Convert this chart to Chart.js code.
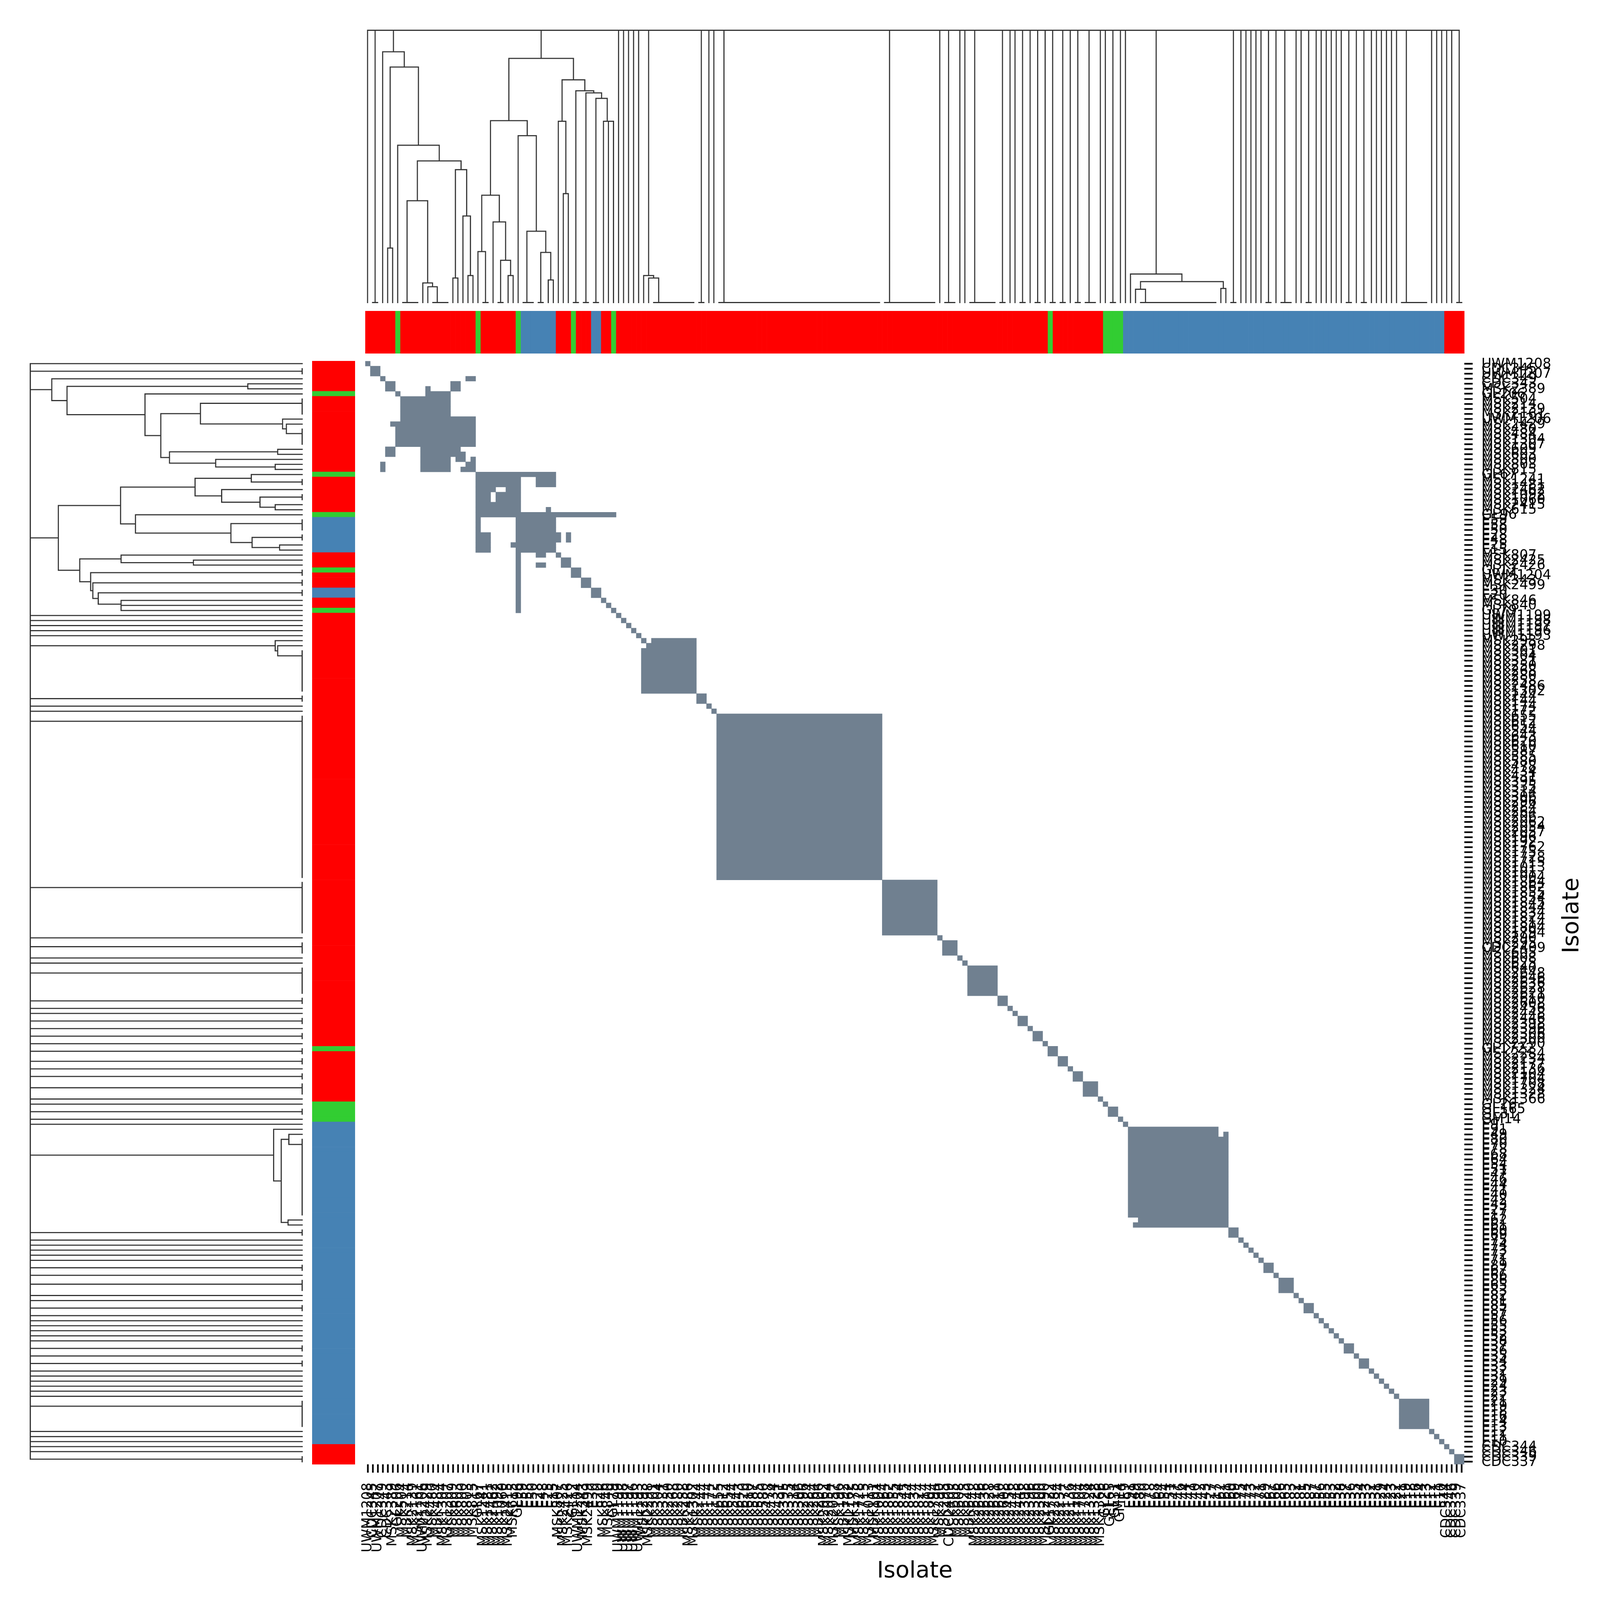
<!DOCTYPE html>
<html><head><meta charset="utf-8">
<style>html,body{margin:0;padding:0;background:#fff;overflow:hidden}canvas{position:absolute;display:block}</style>
<script src="https://cdn.jsdelivr.net/npm/chart.js@4"></script>
</head><body>
<script>
// ---------- data ----------
const isolates = ["UWM1208","CDC345","UWM1207","CDC349","CDC343","MSK2389","GL206","MSK504","MSK214","MSK2139","MSK2161","UWM1206","MSK2429","MSK480","MSK484","MSK1304","MSK1307","MSK609","MSK603","MSK800","MSK803","MSK815","GL67","MSK1241","MSK1481","MSK2462","MSK1092","MSK1060","MSK2415","MSK615","GL96","E59","E58","E50","E28","E48","E25","E15","MSK807","MSK2425","MSK2426","GL12","UWM1204","MSK343","MSK2499","E30","E20","MSK846","MSK840","GL79","UWM1199","UWM1198","UWM1197","UWM1196","UWM1193","MSK293","MSK2298","MSK301","MSK304","MSK331","MSK250","MSK268","MSK280","MSK258","MSK2486","MSK1302","MSK244","MSK144","MSK174","MSK172","MSK655","MSK612","MSK654","MSK544","MSK643","MSK620","MSK610","MSK587","MSK585","MSK580","MSK478","MSK434","MSK431","MSK395","MSK335","MSK314","MSK306","MSK296","MSK284","MSK264","MSK206","MSK2062","MSK2054","MSK2057","MSK196","MSK192","MSK1762","MSK175","MSK1728","MSK1715","MSK1013","MSK101","MSK1004","MSK1864","MSK1862","MSK1855","MSK1854","MSK1845","MSK1844","MSK1834","MSK1824","MSK1814","MSK1804","MSK1794","MSK290","MSK295","CDC2409","MSK605","MSK608","MSK625","MSK640","MSK2648","MSK2646","MSK2636","MSK2628","MSK2621","MSK2610","MSK2608","MSK2456","MSK2448","MSK2446","MSK2398","MSK2396","MSK2306","MSK2300","MSK2290","GL1722","MSK2284","MSK2234","MSK2177","MSK2136","MSK2104","MSK1704","MSK1708","MSK1324","MSK1328","MSK1366","GL26","GL165","GL31","GM14","E9","E91","E49","E80","E70","E78","E68","E64","E54","E51","E47","E46","E44","E41","E40","E42","E43","E27","E17","E62","E61","E60","E69","E75","E74","E73","E72","E71","E89","E67","E66","E86","E65","E83","E82","E81","E85","E87","E57","E56","E55","E53","E52","E38","E37","E36","E35","E34","E33","E32","E31","E29","E24","E23","E22","E21","E19","E18","E16","E14","E13","E12","E11","E10","CDC344","CDC346","CDC339","CDC337"];

// [first isolate, last isolate, group]
const groupSpans = [[0,5,"MSK"],[6,6,"GL"],[7,21,"MSK"],[22,22,"GL"],[23,29,"MSK"],[30,30,"GL"],[31,37,"E"],[38,40,"MSK"],[41,41,"GL"],[42,44,"MSK"],[45,46,"E"],[47,48,"MSK"],[49,49,"GL"],[50,135,"MSK"],[136,136,"GL"],[137,146,"MSK"],[147,150,"GL"],[151,214,"E"],[215,218,"MSK"]];
const groupColors = {MSK:"#ff0000",GL:"#32cd32",E:"#4682b4"};

// [first row, last row, [[first col,last col],...]] : linked pairs outside plain diagonal blocks
const heatBands = [
[0,0,[[0,0]]],[1,2,[[1,2]]],[3,3,[[3,3],[20,21]]],[4,4,[[4,5],[17,18]]],[5,5,[[4,5],[12,12],[17,18]]],[6,6,[[6,6],[12,16]]],[7,10,[[7,16]]],[11,11,[[7,21]]],[12,12,[[5,21]]],[13,16,[[6,21]]],[17,17,[[4,5],[11,18]]],[18,18,[[4,5],[11,19]]],[19,19,[[11,16],[18,19],[21,21]]],[20,20,[[3,3],[11,16],[20,21]]],[21,21,[[3,3],[11,16],[19,21]]],
[22,22,[[22,37]]],[23,24,[[22,30],[34,37]]],[25,25,[[22,25],[28,30]]],[26,27,[[22,24],[26,30]]],[28,28,[[22,30]]],[29,29,[[22,30],[36,36]]],[30,30,[[22,49]]],[31,33,[[22,22],[30,37]]],[34,35,[[22,24],[30,38],[40,40]]],[36,36,[[22,24],[29,37]]],[37,37,[[22,24],[30,37]]],[38,38,[[30,30],[34,35],[38,38]]],[39,39,[[30,30],[39,40]]],[40,40,[[30,30],[34,35],[39,40]]],[41,42,[[30,30],[41,42]]],[43,44,[[30,30],[43,44]]],[45,46,[[30,30],[45,46]]],[47,47,[[30,30],[47,47]]],[48,48,[[30,30],[48,48]]],[49,49,[[30,30],[49,49]]],
[55,55,[[55,55],[57,65]]],[56,56,[[56,65]]],[57,65,[[55,65]]],
[152,152,[[152,169]]],[153,153,[[152,169],[171,171]]],[154,169,[[152,171]]],[170,170,[[154,171]]],[171,171,[[153,171]]]];

// leaf groups joined at height zero ("a-b") or single leaves, both a plain diagonal block
const singles5054 = [50,51,52,53,54];
const midGroups = ["66-67",68,69,"70-102","103-113",114,"115-117",118,119,"120-125","126-127",128,129,"130-131",132,"133-134",135,"136-137","138-139",140,"141-142","143-145",146,147,"148-149",150,151];
const tailGroups = ["172-173",174,175,176,177,178,"179-180",181,"182-184",185,186,"187-188",189,190,191,192,193,194,"195-196",197,"198-199",200,201,202,203,204,205,"206-211",212,213,214,215,216,"217-218"];

// dendrogram clades: [height, left, right]
const cladeA = [.921,3,[.865,[.2,4,5],[.578,6,[.52,[.374,"7-10",[.072,11,[.058,12,"13-16"]]],[.488,[.09,17,18],[.318,19,[.099,20,21]]]]]]];
const cladeB = [.897,[.668,[.394,[.187,22,"23-24"],[.296,25,[.155,"26-27",[.099,28,29]]]],[.613,30,[.262,"31-33",[.184,"34-35",[.083,36,37]]]]],[.818,[.666,38,[.4,39,40]],[.778,"41-42",[.77,"43-44",[.75,"45-46",[.666,47,[.666,48,49]]]]]]];
const cladeC = [.099,55,[.09,56,"57-65"]];
const cladeD = [.105,152,[.077,[.049,153,"154-169"],[.052,170,171]]];
const rootChildren = [0,"1-2",cladeA,cladeB,...singles5054,cladeC,...midGroups,cladeD,...tailGroups];

// ---------- build ----------
const N = isolates.length;
const HEAT = "#708090", TREE = "#333333", INK = "#000000", FONT = "DejaVu Sans";
const K = Math.min(1,Math.min(window.innerWidth,window.innerHeight)/5765);   // fit the reference frame to the window
Chart.defaults.font.family = FONT;
Chart.defaults.devicePixelRatio = 1;

const groupOf = [];
groupSpans.forEach(([a,b,g])=>{for(let i=a;i<=b;i++)groupOf[i]=g;});
const barColors = groupOf.map(g=>groupColors[g]);

// expand heat bands into one run list per row
const runs = Array.from({length:N},()=>[]);
heatBands.forEach(([r0,r1,list])=>{for(let r=r0;r<=r1;r++)list.forEach(x=>runs[r].push(x));});
[...singles5054,...midGroups,...tailGroups].forEach(g=>{
  const [a,b] = String(g).split("-").map(Number);
  const e = b===undefined?a:b;
  for(let r=a;r<=e;r++)runs[r].push([a,e]);
});
const maxRuns = Math.max(...runs.map(r=>r.length));
const heatDatasets = [];
for(let k=0;k<maxRuns;k++){
  heatDatasets.push({data:runs.map(r=>r[k]?[r[k][0],r[k][1]+1]:null),backgroundColor:HEAT,borderWidth:0,barPercentage:1,categoryPercentage:1,grouped:false,inflateAmount:0.4});
}

// dendrogram segments as (leaf position, height) polylines separated by gaps
const topPts=[], leftPts=[];
function seg(p0,h0,p1,h1){
  topPts.push({x:p0+.5,y:h0},{x:p1+.5,y:h1},{x:null,y:null});
  leftPts.push({x:h0,y:p0+.5},{x:h1,y:p1+.5},{x:null,y:null});
}
function place(n){
  if(typeof n==="number")return n;
  if(typeof n==="string"){
    const [a,b]=n.split("-").map(Number);
    seg(a,0,b,0);
    return a+1-Math.pow(2,-(b-a));
  }
  const h=n[0];
  const ps=n.slice(1).map(k=>{
    const p=place(k);
    seg(p,Array.isArray(k)?k[0]:0,p,h);
    return p;
  });
  seg(ps[0],h,ps[ps.length-1],h);
  return (ps[0]+ps[ps.length-1])/2;
}
const rootPos = rootChildren.map(k=>{const p=place(k);seg(p,Array.isArray(k)?k[0]:0,p,1);return p;});
seg(rootPos[0],1,rootPos[rootPos.length-1],1);

// ---------- panels ----------
function panel(l,t,r,b,pad,config){
  const c=document.createElement("canvas");
  c.width=Math.round(r-l+2*pad);c.height=Math.round(b-t+2*pad);
  c.style.left=((l-pad)*K)+"px";c.style.top=((t-pad)*K)+"px";
  c.style.width=(c.width*K)+"px";c.style.height=(c.height*K)+"px";
  document.body.appendChild(c);
  config.options=Object.assign({responsive:false,animation:false,events:[],devicePixelRatio:1,layout:{padding:pad},plugins:{legend:{display:false},tooltip:{enabled:false}}},config.options);
  return new Chart(c,config);
}
const LW=4;

// top dendrogram
panel(1316,108.7,5276,1091,12,{type:"line",data:{datasets:[{data:topPts,borderColor:TREE,borderWidth:LW,pointRadius:0,spanGaps:false,tension:0,clip:false,borderCapStyle:"square"}]},
  options:{scales:{x:{type:"linear",min:0,max:N,display:false},y:{type:"linear",min:0,max:1,display:false}}}});
// left dendrogram
panel(109,1301,1089,5276,12,{type:"line",data:{datasets:[{data:leftPts,borderColor:TREE,borderWidth:LW,pointRadius:0,spanGaps:false,tension:0,clip:false,borderCapStyle:"square"}]},
  options:{scales:{x:{type:"linear",min:0,max:1,reverse:true,display:false},y:{type:"linear",min:0,max:N,reverse:true,display:false}}}});
// top colour strip
panel(1316,1120,5276,1273.6,0,{type:"bar",data:{labels:isolates,datasets:[{data:isolates.map(()=>1),backgroundColor:barColors,barPercentage:1,categoryPercentage:1,borderWidth:0}]},
  options:{scales:{x:{display:false},y:{min:0,max:1,display:false}}}});
// left colour strip
panel(1125,1301,1280,5276,0,{type:"bar",data:{labels:isolates,datasets:[{data:isolates.map(()=>1),backgroundColor:barColors,barPercentage:1,categoryPercentage:1,borderWidth:0}]},
  options:{indexAxis:"y",scales:{y:{display:false},x:{min:0,max:1,display:false}}}});

// heat map with both axes
const yTitlePlugin={id:"yTitle",afterDraw(chart){
  const s=chart.scales.y,ctx=chart.ctx;
  ctx.save();
  ctx.translate(s.right-99,(s.top+s.bottom)/2+10);
  ctx.rotate(-Math.PI/2);
  ctx.font="82px '"+FONT+"'";ctx.fillStyle=INK;ctx.textAlign="center";ctx.textBaseline="middle";
  ctx.fillText("Isolate",0,0);
  ctx.restore();
}};
const tickGrid={drawOnChartArea:false,drawTicks:true,tickLength:30,tickWidth:6,tickColor:INK,offset:false};
panel(0,0,5765,5765,0,{type:"bar",plugins:[yTitlePlugin],data:{labels:isolates,datasets:heatDatasets},
  options:{indexAxis:"y",layout:{padding:{left:1316,top:1301,right:0,bottom:0}},
  scales:{
    x:{type:"linear",position:"bottom",min:0,max:N,border:{display:false},grid:tickGrid,
      afterBuildTicks(s){s.ticks=isolates.map((_,i)=>({value:i+.5}));},
      afterFit(s){s.height=5765-5276;},
      title:{display:true,text:"Isolate",color:INK,font:{size:82,family:FONT},padding:{top:0,bottom:53}},
      ticks:{autoSkip:false,minRotation:90,maxRotation:90,padding:36,color:INK,font:{size:49,family:FONT},callback:(v,i)=>isolates[i]}},
    y:{type:"category",position:"right",border:{display:false},grid:tickGrid,
      afterFit(s){s.width=5765-5276;},
      ticks:{autoSkip:false,padding:32,labelOffset:2,color:INK,font:{size:49,family:FONT}}}
  }}});
</script>
</body></html>
